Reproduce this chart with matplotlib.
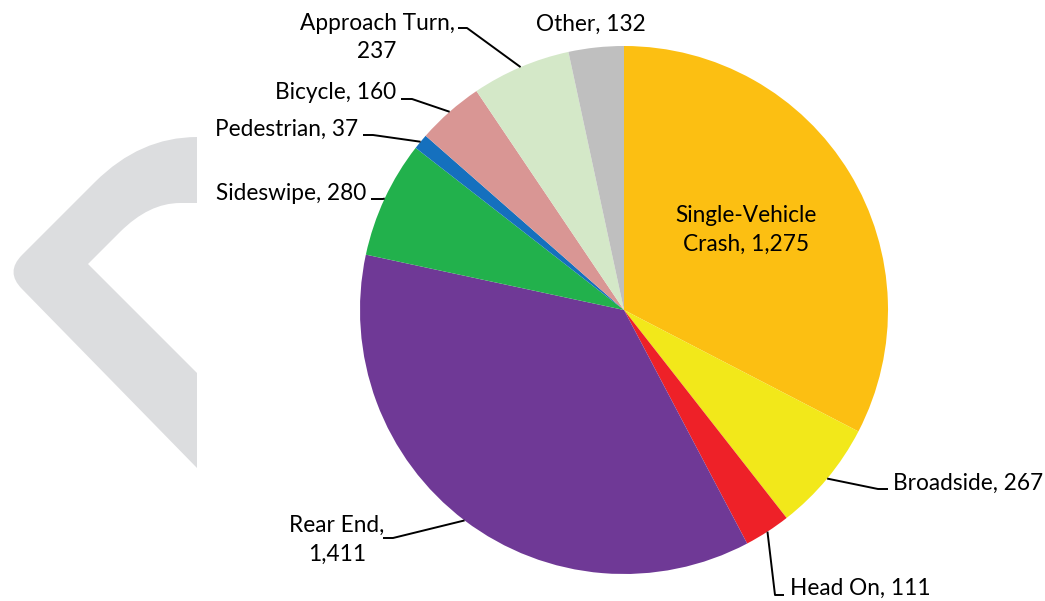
import matplotlib
matplotlib.use("Agg")
import matplotlib.pyplot as plt
from matplotlib.path import Path
from matplotlib.patches import PathPatch
import numpy as np

# crash counts by type, in pie order (clockwise from 12 o'clock)
categories = ['Single-Vehicle Crash', 'Broadside', 'Head On', 'Rear End',
              'Sideswipe', 'Pedestrian', 'Bicycle', 'Approach Turn', 'Other']
crashes = [1275, 267, 111, 1411, 280, 37, 160, 237, 132]
colors = ['#FCBF12', '#F2E81A', '#EE2128', '#6F3996', '#22B14C',
          '#1570BE', '#D99694', '#D4E8C8', '#BFBFBF']

W, H = 1045, 601
CX, CY, R = 624, 310, 264
LINE_GAP = 28.5

# label layout in image pixels: x, first baseline, align, where to wrap, leader
label_layout = [
    (746, 222, 'center', 'Single-Vehicle', None),
    (893, 490, 'left', None, [(878, 489), (888, 489)]),
    (790, 595, 'left', None, [(775, 595), (784, 595)]),
    (337, 532, 'center', 'Rear End,', [(393, 538), (383, 538)]),
    (366, 200, 'right', None, [(383, 199), (371, 199)]),
    (358, 136, 'right', None, [(373, 135), (363, 135)]),
    (396, 99, 'right', None, [(412, 99), (401, 99)]),
    (377, 30, 'center', 'Approach Turn,', [(467, 28), (458, 28)]),
    (591, 31, 'center', None, None),
]


def fy(y):
    """Image row -> data y."""
    return H - y


def chevron():
    """Grey background chevron on the left."""
    pts = [(197, 137), (140, 137), (95, 182), (22, 255), (5, 272), (22, 289),
           (197, 468), (197, 373), (88, 264), (120, 232), (149, 203),
           (180, 203), (197, 203), (197, 137)]
    codes = [Path.MOVETO, Path.CURVE3, Path.CURVE3, Path.LINETO,
             Path.CURVE3, Path.CURVE3, Path.LINETO, Path.LINETO,
             Path.LINETO, Path.LINETO, Path.CURVE3, Path.CURVE3,
             Path.LINETO, Path.CLOSEPOLY]
    verts = [(x, fy(y)) for x, y in pts]
    return PathPatch(Path(verts, codes), facecolor='#DCDDDF',
                     edgecolor='none', zorder=0)


def main():
    plt.rcParams['font.family'] = ['Lato', 'DejaVu Sans']
    fig = plt.figure(figsize=(W / 100, H / 100), dpi=100)
    ax = fig.add_axes([0, 0, 1, 1])

    ax.add_patch(chevron())

    wedges, _ = ax.pie(crashes, colors=colors, startangle=90,
                       counterclock=False, radius=R, center=(CX, fy(CY)),
                       wedgeprops=dict(linewidth=0), frame=True)
    ax.set_xlim(0, W)
    ax.set_ylim(0, H)
    ax.set_aspect('equal')
    ax.axis('off')

    for wedge, cat, val, lay in zip(wedges, categories, crashes, label_layout):
        x, base, ha, wrap, leader = lay
        text = f"{cat}, {val:,}"
        if wrap:
            text = text.replace(wrap + " ", wrap + "\n", 1)
        for i, line in enumerate(text.split("\n")):
            ax.text(x, fy(base + i * LINE_GAP), line, ha=ha, va='baseline',
                    fontsize=16.3, color='black', zorder=5)
        if leader:
            mid = np.deg2rad((wedge.theta1 + wedge.theta2) / 2)
            xs = [CX + R * np.cos(mid)] + [p[0] for p in leader]
            ys = [fy(CY) + R * np.sin(mid)] + [fy(p[1]) for p in leader]
            ax.plot(xs, ys, color='black', lw=1.4, zorder=4,
                    solid_capstyle='butt')

    fig.savefig('out.png', dpi=100)


if __name__ == "__main__":
    main()
